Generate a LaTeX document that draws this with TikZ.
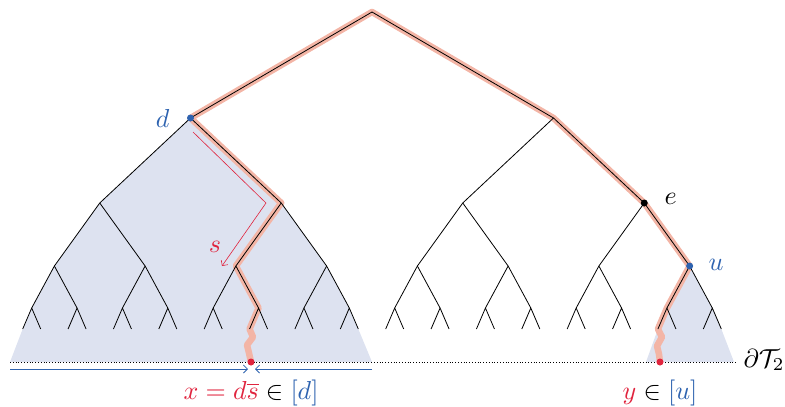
\documentclass[tikz,border=0pt]{standalone}
\usepackage{amsmath}
\usetikzlibrary{arrows.meta}
\definecolor{shadebg}{HTML}{DDE2F0}
\definecolor{hl}{HTML}{F3B5A6}
\definecolor{myred}{HTML}{E0243E}
\definecolor{myblue}{HTML}{2E63B0}
\begin{document}
\begin{tikzpicture}[x=1pt,y=-1pt,
  edge/.style={line width=0.8pt, line join=round},
  hlpath/.style={hl, line width=6.5pt, line join=round, line cap=round},
  dotnode/.style={circle, inner sep=0pt, minimum size=7pt},
  lbl/.style={scale=2.6, transform shape, inner sep=0pt}]
\useasboundingbox (0,0) rectangle (785,407);
% ---- coordinates of the tree
\coordinate (r) at (372,12);
\foreach \i in {0,1} {\pgfmathsetmacro\xx{372+(\i-0.5)*363} \coordinate (a\i) at (\xx,118);}
\foreach \i in {0,...,3} {\pgfmathsetmacro\xx{372+(\i-1.5)*181.5} \coordinate (b\i) at (\xx,203);}
\foreach \i in {0,...,7} {\pgfmathsetmacro\xx{372+(\i-3.5)*90.75} \coordinate (c\i) at (\xx,266);}
\foreach \i in {0,...,15} {
  \pgfmathsetmacro\xx{372+(\i-7.5)*45.375}
  \pgfmathsetmacro\xl{\xx-9}
  \pgfmathsetmacro\xr{\xx+9}
  \coordinate (g\i) at (\xx,308);
  \coordinate (h\i-0) at (\xl,329);
  \coordinate (h\i-1) at (\xr,329);
}
\coordinate (xpt) at (251,362);
\coordinate (ypt) at (660,362);
\coordinate (xw1) at (253,337);
\coordinate (xw2) at (247,345);
\coordinate (xw3) at (249,353);
\coordinate (yw1) at (662,337);
\coordinate (yw2) at (657,346);
\coordinate (yw3) at (659,354);
\coordinate (bl) at (10,362);
\coordinate (br) at (372,362);
\coordinate (ul) at (646,362);
\coordinate (ur) at (734,362);
\coordinate (dotL) at (10,362);
\coordinate (dotR) at (736,362);
% ---- shaded subtrees
\fill[shadebg] (a0) -- (b0) -- (c0) -- (g0) -- (h0-0) -- (bl) -- (br) -- (h7-1) -- (g7) -- (c3) -- (b1) -- cycle;
\fill[shadebg] (c7) -- (g14) -- (h14-0) -- (ul) -- (ur) -- (h15-1) -- (g15) -- cycle;
% ---- highlighted paths
\draw[hlpath] (r) -- (a0) -- (b1) -- (c2) -- (g5) -- (h5-0) -- (xw1) -- (xw2) -- (xw3) -- (xpt);
\draw[hlpath] (r) -- (a1) -- (b3) -- (c7) -- (g14) -- (h14-0) -- (yw1) -- (yw2) -- (yw3) -- (ypt);
% ---- boundary
\draw[dotted, line width=0.8pt] (dotL) -- (dotR);
% ---- tree edges
\foreach \i in {0,1} {\draw[edge] (r) -- (a\i);}
\foreach \i in {0,...,3} {\pgfmathtruncatemacro\p{floor(\i/2)} \draw[edge] (a\p) -- (b\i);}
\foreach \i in {0,...,7} {\pgfmathtruncatemacro\p{floor(\i/2)} \draw[edge] (b\p) -- (c\i);}
\foreach \i in {0,...,15} {\pgfmathtruncatemacro\p{floor(\i/2)} \draw[edge] (c\p) -- (g\i);
  \draw[edge] (h\i-0) -- (g\i) -- (h\i-1);}
% ---- red arrow s
\coordinate (s1) at (193,132);
\coordinate (s2) at (266,203);
\coordinate (s3) at (222,266);
\draw[myred, line width=0.6pt, line join=miter, -{Straight Barb[length=4pt,width=8pt]}] (s1) -- (s2) -- (s3);
\node[lbl, text=myred] (ls) at (215,247) {$s$};
% ---- blue arrows
\coordinate (al1) at (10,369);
\coordinate (al2) at (248,369);
\coordinate (ar1) at (372,369);
\coordinate (ar2) at (255,369);
\draw[myblue, line width=0.8pt, -{Straight Barb[length=4pt,width=8pt]}] (al1) -- (al2);
\draw[myblue, line width=0.8pt, -{Straight Barb[length=4pt,width=8pt]}] (ar1) -- (ar2);
% ---- dots
\node[dotnode, fill=myblue] (dd) at (a0) {};
\node[dotnode, fill=black] (de) at (b3) {};
\node[dotnode, fill=myblue] (du) at (c7) {};
\node[dotnode, fill=myred] (dx) at (xpt) {};
\node[dotnode, fill=myred] (dy) at (ypt) {};
% ---- labels
\node[lbl, text=myblue, anchor=east] (ld) at (170,118) {$d$};
\node[lbl, anchor=west] (le) at (664,199) {$e$};
\node[lbl, text=myblue, anchor=west] (lu) at (708,265) {$u$};
\node[lbl] (lx) at (251,393) {$\color{myred}x = d\overline{s}\color{black}\in\color{myblue}[d]$};
\node[lbl] (ly) at (660,393) {$\color{myred}y\color{black}\in\color{myblue}[u]$};
\node[lbl, anchor=west] (lT) at (743,360) {$\partial\mathcal{T}_2$};
\end{tikzpicture}
\end{document}
